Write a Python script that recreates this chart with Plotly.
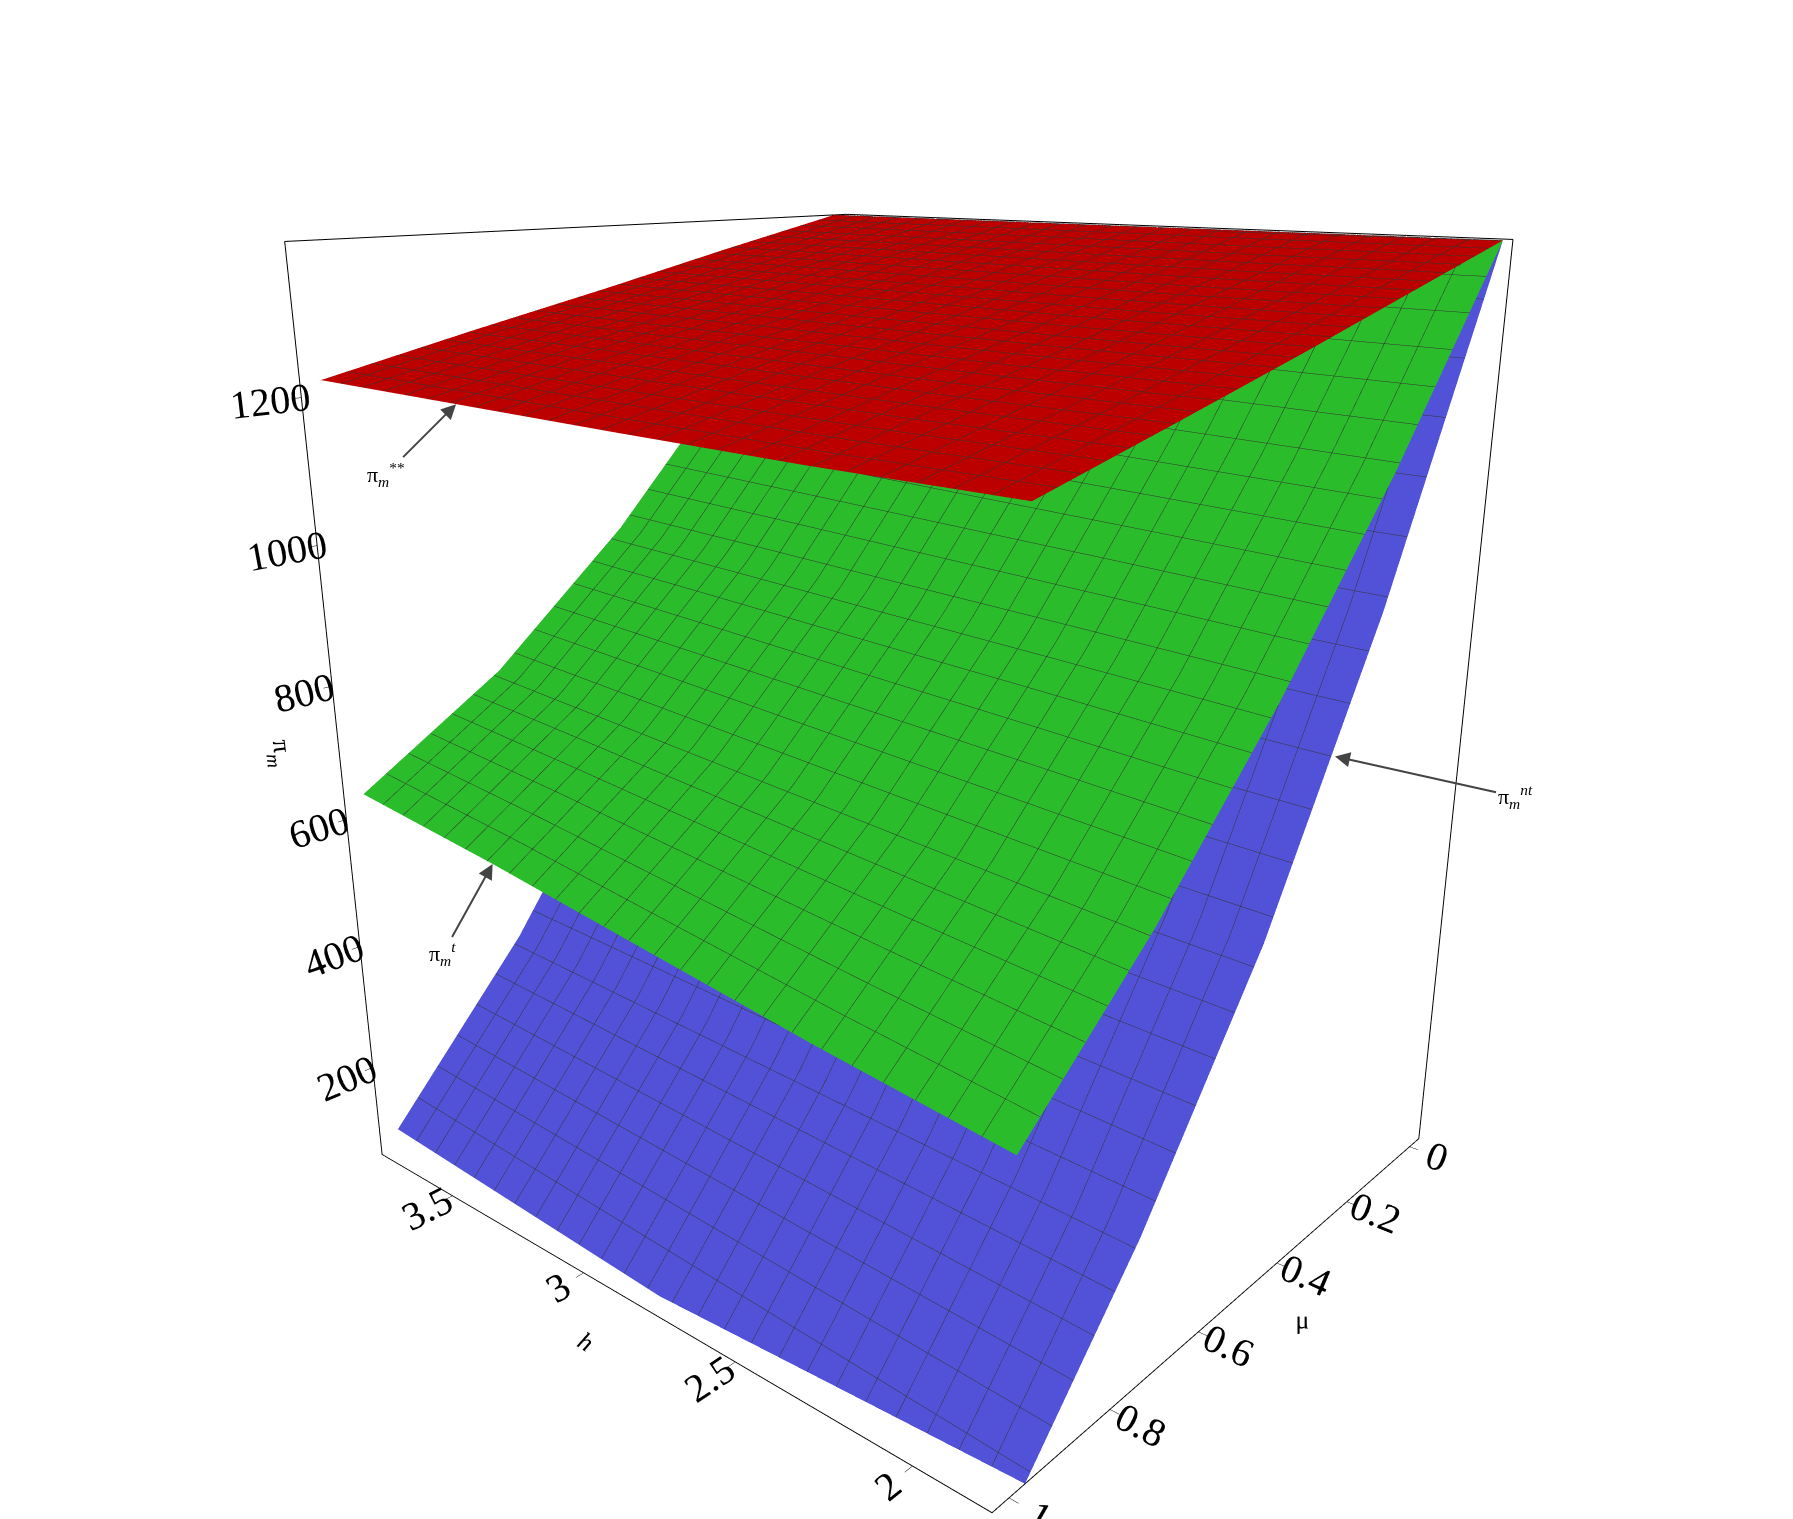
import plotly.graph_objects as go

mu_vals = [0, 0.25, 0.5, 0.75, 1.0]
h_vals = [1.8, 2.3, 2.8, 3.3, 3.8]
# rows: mu, cols: h
pi_ss = [[1400, 1400, 1400, 1400, 1400],
         [1350, 1350, 1352, 1354, 1356],
         [1300, 1301, 1304, 1307, 1310],
         [1252, 1254, 1258, 1262, 1266],
         [1205, 1206, 1210, 1215, 1220]]
pi_t = [[1400, 1398, 1396, 1393, 1390],
        [1130, 1138, 1146, 1153, 1160],
        [890, 903, 915, 928, 940],
        [680, 700, 720, 740, 760],
        [500, 530, 565, 600, 630]]
pi_nt = [[1400, 1400, 1400, 1400, 1400],
         [950, 955, 960, 965, 970],
         [570, 580, 590, 600, 610],
         [270, 282, 294, 306, 318],
         [20, 35, 50, 65, 80]]
z_ticks = [200, 400, 600, 800, 1000, 1200]

def surf(z, color):
    zt = [list(r) for r in zip(*z)]
    return go.Surface(x=mu_vals, y=h_vals, z=zt, colorscale=[[0, color], [1, color]],
                      showscale=False, opacity=1.0,
                      lighting=dict(ambient=0.85, diffuse=0.5, specular=0.2, roughness=0.6),
                      contours=dict(
                          x=dict(show=True, start=0, end=1, size=0.04, color="#333", width=1),
                          y=dict(show=True, start=1.8, end=3.8, size=0.08, color="#333", width=1)))

fig = go.Figure([surf(pi_nt, "#6060ff"), surf(pi_t, "#33dd33"), surf(pi_ss, "#dd0000")])

font = dict(family="Liberation Serif", size=22, color="black")
ax = dict(showbackground=False, showgrid=False, showline=True, linecolor="black", linewidth=2,
          zeroline=False, tickfont=font, ticks="outside", tickcolor="black", ticklen=8,
          showspikes=False, mirror=True)
tfont = dict(family="Liberation Serif", size=26, color="black")
fig.update_layout(
    width=1793, height=1519, paper_bgcolor="white", margin=dict(l=0, r=0, t=0, b=0),
    scene=dict(
        xaxis=dict(ax, title=dict(text="μ", font=tfont),
                   autorange="reversed", tickvals=[0, 0.2, 0.4, 0.6, 0.8, 1],
                   ticktext=["0", "0.2", "0.4", "0.6", "0.8", "1"]),
        yaxis=dict(ax, title=dict(text="<i>h</i>", font=tfont),
                   range=[1.8, 3.8], tickvals=[2, 2.5, 3, 3.5]),
        zaxis=dict(ax, title=dict(text="π<sub><i>m</i></sub>", font=tfont),
                   range=[50, 1400], tickvals=z_ticks),
        aspectmode="manual", aspectratio=dict(x=1, y=1.1, z=1.25),
        camera=dict(eye=dict(x=-1.75, y=-1.5, z=0.75), center=dict(x=0, y=0, z=-0.05),
                    projection=dict(type="perspective")),
        annotations=[
            dict(x=1.0, y=3.3, z=1215, text="π<sub><i>m</i></sub><sup>**</sup>", showarrow=True,
                 arrowhead=2, arrowsize=1.5, arrowwidth=2, ax=-70, ay=70, font=font),
            dict(x=1.0, y=3.3, z=600, text="π<sub><i>m</i></sub><sup><i>t</i></sup>", showarrow=True,
                 arrowhead=2, arrowsize=1.5, arrowwidth=2, ax=-50, ay=90, font=font),
            dict(x=0.35, y=1.8, z=780, text="π<sub><i>m</i></sub><sup><i>nt</i></sup>", showarrow=True,
                 arrowhead=2, arrowsize=1.5, arrowwidth=2, ax=180, ay=40, font=font),
        ]),
)
fig.write_html("out.html")
